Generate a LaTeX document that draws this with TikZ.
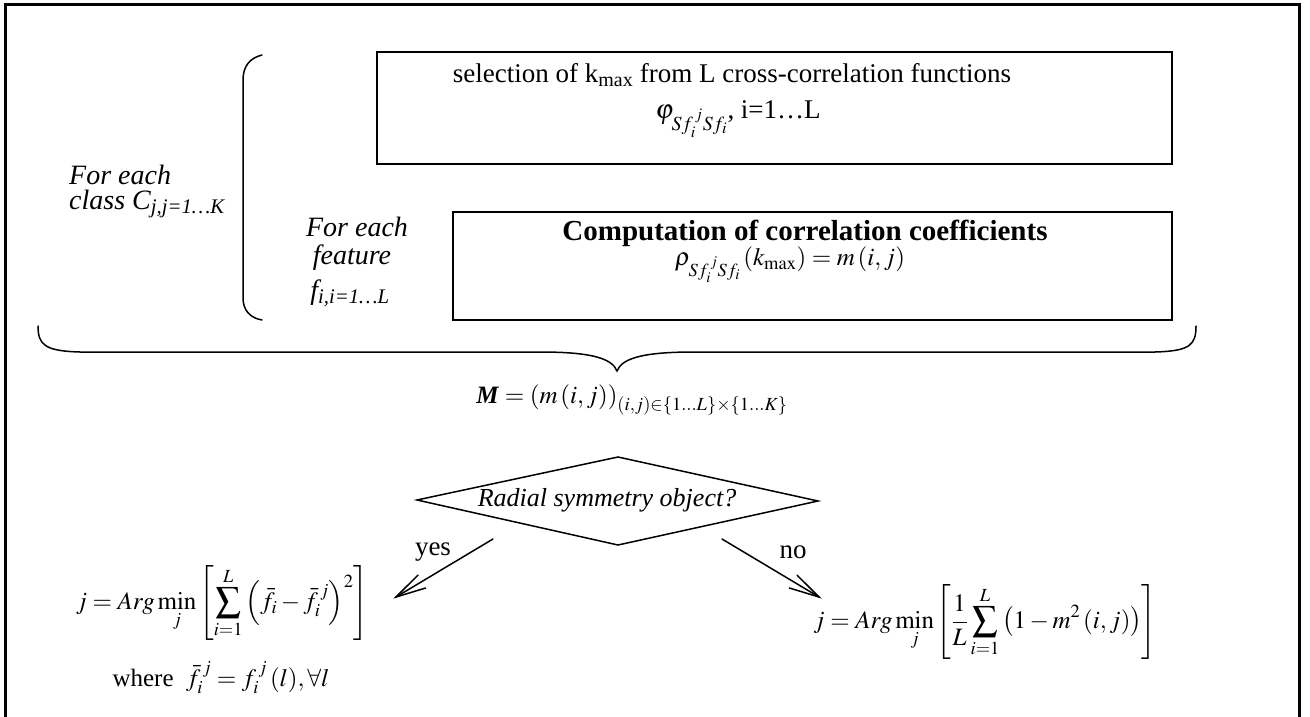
\documentclass[tikz,border=0pt]{standalone}
\usepackage{amsmath}
\usepackage{mathptmx}
\usepackage{fontspec}
\setmainfont{Liberation Serif}
\usetikzlibrary{calc,shapes.geometric}
\tikzset{
  box/.style={draw, line width=1.5pt, inner sep=0pt},
  txt/.style={font=\fontsize{27}{30}\selectfont, inner sep=0pt, align=center},
  itl/.style={font=\fontsize{28}{30}\selectfont\itshape, inner sep=0pt, align=center},
  fml/.style={font=\fontsize{25}{28}\selectfont, inner sep=0pt, align=center},
  conn/.style={line width=1.5pt, line cap=round},
  brace/.style={line width=1.5pt, line cap=round}
}
\begin{document}
\begin{tikzpicture}[x=1pt,y=-1pt]
\useasboundingbox (0,0) rectangle (1310,717);
\begin{scope}
\clip (0,0) rectangle (1310,717);
\draw[line width=3pt] (5,730) -- (5,5) -- (1299,5) -- (1299,730);
\end{scope}
% top box
\draw[box] (377,52) rectangle (1172,164);
\node[txt] (sel) at (732,75) {selection of k\textsubscript{max} from L cross-correlation functions};
\node[txt] (phi) at (738,119) {$\varphi_{Sf_i^{\,j}Sf_i}$, i=1\ldots L};
% bottom box
\draw[box] (453,212) rectangle (1172,320);
\node[txt, font=\fontsize{29}{30}\selectfont\bfseries] (comp) at (805,233) {Computation of correlation coefficients};
\node[fml] (rho) at (790,265) {$\rho_{Sf_i^{\,j}Sf_i}\left(k_{\max}\right)=m\left(i,j\right)$};
% left bracket
\draw[brace] (262,55) .. controls (250,58) and (243,66) .. (243,80) -- (243,298) .. controls (243,310) and (250,318) .. (262,320);
\node[itl, anchor=west] (cls) at (69,175) {For each};
\node[itl, anchor=west] (cls2) at (69,204) {class C\textsubscript{\textit{j,j=1\ldots K}}};
\node[itl] (feat) at (357,227) {For each};
\node[itl] (feat2) at (352,258) {feature};
\node[itl] (feat3) at (350,293) {f\textsubscript{\textit{i,i=1\ldots L}}};
% big horizontal brace
\draw[brace] (38,326) .. controls (38,345) and (45,351) .. (80,352) -- (540,352) .. controls (590,352) and (612,358) .. (617,371) .. controls (622,358) and (644,352) .. (694,352) -- (1155,352) .. controls (1190,351) and (1196,345) .. (1196,326);
\node[fml] (M) at (632,400) {$\text{\textbf{\textit{M}}}=\left(m\left(i,j\right)\right)_{(i,j)\in\{1\ldots L\}\times\{1\ldots K\}}$};
% diamond
\draw[box] (417,500) -- (618,457) -- (818,501) -- (618,545) -- cycle;
\node[itl, font=\fontsize{26}{30}\selectfont\itshape] (q) at (607,500) {Radial symmetry object?};
\coordinate (ys) at (493,539);
\coordinate (ye) at (396,597);
\coordinate (ns) at (722,539);
\coordinate (ne) at (819,597);
\draw[conn] (ys) -- (ye);
\draw[conn] ($(ye)!31pt!14:(ys)$) -- (ye) -- ($(ye)!31pt!-14:(ys)$);
\draw[conn] (ns) -- (ne);
\draw[conn] ($(ne)!31pt!14:(ns)$) -- (ne) -- ($(ne)!31pt!-14:(ns)$);
\node[txt] (yes) at (433,552) {yes};
\node[txt] (no) at (793,552) {no};
% formulas
\node[fml] (f1) at (222,603) {$\displaystyle j=Arg\min_j\left[\sum_{i=1}^{L}\left(\bar f_i-\bar f_i^{\,j}\right)^2\right]$};
\node[fml] (f1b) at (221,678) {where\ \ $\bar f_i^{\,j}=f_i^{\,j}\left(l\right)\!,\forall l$};
\node[fml] (f2) at (985,622) {$\displaystyle j=Arg\min_j\left[\frac{1}{L}\sum_{i=1}^{L}\left(1-m^2\left(i,j\right)\right)\right]$};
\end{tikzpicture}
\end{document}
